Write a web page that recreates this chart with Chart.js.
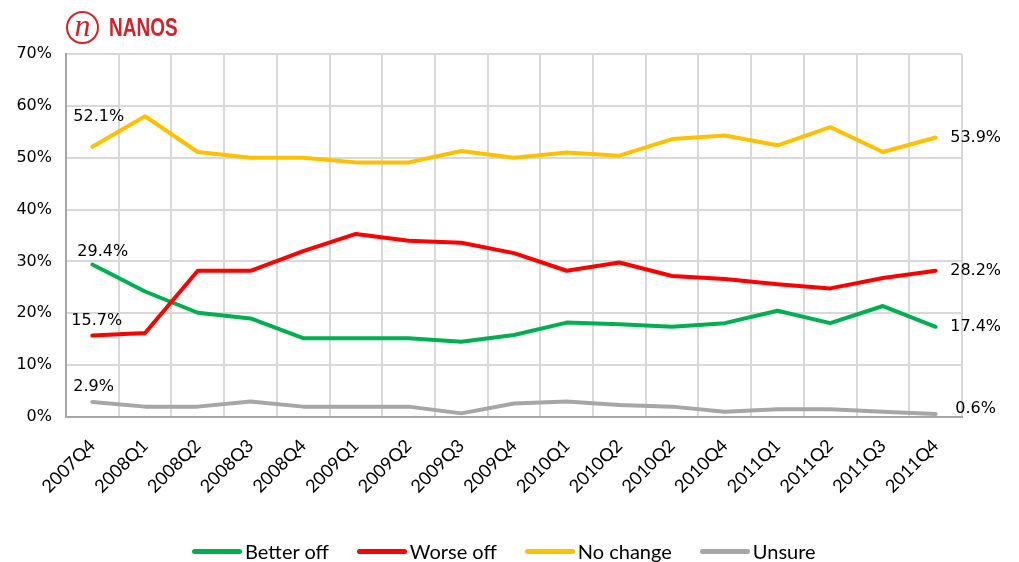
<!DOCTYPE html>
<html>
<head>
<meta charset="utf-8">
<script src="https://cdn.jsdelivr.net/npm/chart.js@4"></script>
<style>
  html, body { margin: 0; padding: 0; background: #fff; }
  #wrap { position: relative; width: 1019px; height: 562px; overflow: hidden; }
  #chart { position: absolute; left: 0; top: 0; }
  .logo-ring {
    position: absolute; left: 66px; top: 11px; width: 29px; height: 29px;
    border: 2.5px solid #d2232a; border-radius: 50%;
    color: #d2232a; font: italic 32px "Liberation Serif", serif;
    text-align: center; line-height: 25px;
  }
  .logo-text {
    position: absolute; left: 109px; top: 13px;
    color: #d2232a; font: bold 25px "Liberation Sans", sans-serif;
    transform: scaleX(0.76); transform-origin: left top;
  }
  #legend {
    position: absolute; left: 192px; top: 539px; height: 24px; display: flex; align-items: center;
    font: 20px Lato, sans-serif; color: #000;
  }
  .item { display: flex; align-items: center; margin-right: 28px; }
  .swatch { width: 50px; height: 5px; border-radius: 2.5px; margin-right: 3px; }
</style>
</head>
<body>
<div id="wrap">
  <canvas id="chart" width="1019" height="562"></canvas>
  <div class="logo-ring">n</div>
  <div class="logo-text">NANOS</div>
  <div id="legend"></div>
</div>
<script>
const quarters = ['2007Q4', '2008Q1', '2008Q2', '2008Q3', '2008Q4', '2009Q1', '2009Q2', '2009Q3',
  '2009Q4', '2010Q1', '2010Q2', '2010Q2', '2010Q4', '2011Q1', '2011Q2', '2011Q3', '2011Q4'];

const betterOff = [29.4, 24.2, 20.1, 19.0, 15.2, 15.2, 15.2, 14.5, 15.8, 18.2, 17.9, 17.4, 18.1, 20.5, 18.1, 21.4, 17.4];
const worseOff  = [15.7, 16.2, 28.2, 28.2, 32.0, 35.3, 34.0, 33.6, 31.6, 28.2, 29.8, 27.2, 26.6, 25.6, 24.8, 26.8, 28.2];
const noChange  = [52.1, 58.0, 51.1, 50.0, 50.0, 49.1, 49.1, 51.3, 50.0, 51.0, 50.4, 53.6, 54.3, 52.4, 55.9, 51.1, 53.9];
const unsure    = [2.9, 2.0, 2.0, 3.0, 2.0, 2.0, 2.0, 0.7, 2.6, 3.0, 2.3, 2.0, 1.0, 1.5, 1.5, 1.0, 0.6];

const seriesNames = ['Better off', 'Worse off', 'No change', 'Unsure'];
const seriesColors = ['#00b050', '#ff0000', '#ffc000', '#a6a6a6'];
const yTicks = [0, 10, 20, 30, 40, 50, 60, 70];

// where the first/last value labels sit relative to their point
const firstLabelShift = [[-15, -13], [-21, -15], [-19, -30], [-19, -15]];
const lastLabelShift = [[40, 0], [40, 0], [40, 0], [40, -5]];

const endLabels = {
  id: 'endLabels',
  afterDatasetsDraw(chart) {
    const ctx = chart.ctx;
    ctx.save();
    ctx.font = '16px "DejaVu Sans", sans-serif';
    ctx.fillStyle = '#000';
    ctx.textBaseline = 'middle';
    chart.data.datasets.forEach((ds, i) => {
      const pts = chart.getDatasetMeta(i).data;
      const first = pts[0], last = pts[pts.length - 1];
      ctx.textAlign = 'left';
      ctx.fillText(ds.data[0].toFixed(1) + '%', first.x + firstLabelShift[i][0], first.y + firstLabelShift[i][1]);
      ctx.textAlign = 'center';
      ctx.fillText(ds.data[ds.data.length - 1].toFixed(1) + '%', last.x + lastLabelShift[i][0], last.y + lastLabelShift[i][1]);
    });
    ctx.restore();
  }
};

const allSeries = [betterOff, worseOff, noChange, unsure];

new Chart(document.getElementById('chart'), {
  type: 'line',
  data: {
    labels: quarters,
    datasets: allSeries.map((vals, i) => ({
      label: seriesNames[i],
      data: vals,
      borderColor: seriesColors[i],
      backgroundColor: seriesColors[i],
      borderWidth: 4,
      borderCapStyle: 'round',
      borderJoinStyle: 'round',
      pointRadius: 0,
      tension: 0,
      // draw order: grey first, yellow, red, green on top
      order: 4 - i
    }))
  },
  options: {
    responsive: false,
    animation: false,
    events: [],
    layout: { padding: { top: 54, right: 57, bottom: 0, left: 0 } },
    plugins: { legend: { display: false }, tooltip: { enabled: false } },
    scales: {
      x: {
        offset: true,
        grid: { color: '#d9d9d9', lineWidth: 2, offset: true, drawTicks: false },
        border: { color: '#a6a6a6', width: 2 },
        ticks: {
          color: '#000', font: { family: 'Lato', size: 18 },
          maxRotation: 45, minRotation: 45, autoSkip: false, padding: 18
        },
        afterFit(scale) { scale.height = 145; }
      },
      y: {
        min: 0, max: 70,
        afterBuildTicks(scale) { scale.ticks = yTicks.map(v => ({ value: v })); },
        grid: { color: '#d9d9d9', lineWidth: 2, drawTicks: false },
        border: { color: '#a6a6a6', width: 2 },
        ticks: {
          color: '#000', font: { family: 'DejaVu Sans', size: 16 }, padding: 14,
          callback: v => v + '%'
        },
        afterFit(scale) { scale.width = 66; }
      }
    }
  },
  plugins: [endLabels]
});

const legend = document.getElementById('legend');
seriesNames.forEach((name, i) => {
  const item = document.createElement('div');
  item.className = 'item';
  item.innerHTML = `<span class="swatch" style="background:${seriesColors[i]}"></span><span>${name}</span>`;
  legend.appendChild(item);
});
</script>
</body>
</html>
